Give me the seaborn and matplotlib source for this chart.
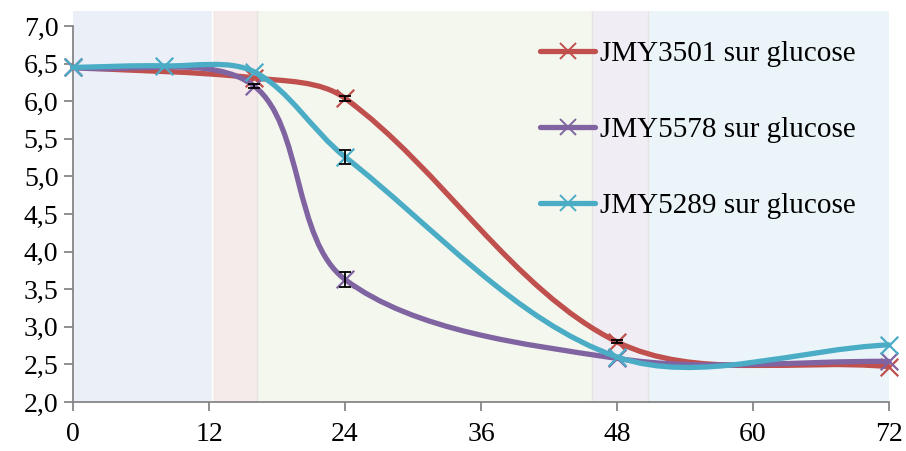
import numpy as np
import pandas as pd
import seaborn as sns
import matplotlib.pyplot as plt
from matplotlib.path import Path
from matplotlib.patches import PathPatch
from matplotlib.lines import Line2D

# time points (h) and pH values (nan = no measure)
hours = [0, 8, 16, 24, 48, 72]
ph_3501 = [6.45, np.nan, 6.31, 6.04, 2.80, 2.47]
ph_5578 = [6.45, np.nan, 6.20, 3.63, 2.58, 2.54]
ph_5289 = [6.45, 6.47, 6.39, 5.26, 2.60, 2.76]
err_3501 = [0, 0, 0, 0.035, 0.02, 0]
err_5578 = [0, 0, 0.03, 0.10, 0, 0]
err_5289 = [0, 0, 0, 0.09, 0, 0]
labels = ["JMY3501 sur glucose", "JMY5578 sur glucose", "JMY5289 sur glucose"]
colors = ["#C0504D", "#8064A2", "#4BACC6"]

# background phases (h)
band_edges = [0, 12.3, 16.2, 45.8, 50.7, 72]
band_colors = ["#EBF0F8", "#F6EBEB", "#F4F7EE", "#F0EEF4", "#EBF5F9"]

sns.set_style("white")
plt.rcParams['font.family'] = ['Liberation Serif', 'DejaVu Serif']
plt.rcParams['text.color'] = 'black'

fig = plt.figure(figsize=(9.06, 4.51), dpi=100)
ax = fig.add_axes([0.0806, 0.1086, 0.9006, 0.867])
ax.set_xlim(0, 72)
ax.set_ylim(2, 7.2)

for i, c in enumerate(band_colors):
    ax.axvspan(band_edges[i], band_edges[i + 1], color=c, lw=0, zorder=0)
    if 0 < i:
        ax.axvline(band_edges[i], color="white" if i == 1 else "#E8E3E3", lw=1, zorder=0.5)


def smooth_path(xs, ys):
    # Excel-like bezier smoothing, computed in display space
    pts = ax.transData.transform(np.column_stack([xs, ys]))
    n = len(pts)
    verts = [pts[0]]
    codes = [Path.MOVETO]
    d = [np.hypot(*(pts[i + 1] - pts[i])) for i in range(n - 1)]
    for i in range(n - 1):
        p0 = pts[i - 1] if i > 0 else pts[i]
        p3 = pts[i + 2] if i + 2 < n else pts[i + 1]
        d0 = d[i - 1] if i > 0 else 0
        d2 = d[i + 1] if i + 1 < n - 1 else 0
        c1 = pts[i] + (pts[i + 1] - p0) / 3 * d[i] / (d0 + d[i])
        c2 = pts[i + 1] - (p3 - pts[i]) / 3 * d[i] / (d[i] + d2)
        verts += [c1, c2, pts[i + 1]]
        codes += [Path.CURVE4] * 3
    verts = ax.transData.inverted().transform(np.array(verts))
    return Path(verts, codes)


series = [ph_3501, ph_5578, ph_5289]
errs = [err_3501, err_5578, err_5289]
for k, (vals, e) in enumerate(zip(series, errs)):
    df = pd.DataFrame({"h": hours, "ph": vals, "err": e}).dropna()
    patch = PathPatch(smooth_path(df["h"].values, df["ph"].values), fill=False,
                      edgecolor=colors[k], lw=3.8, capstyle='round', zorder=3 + k, clip_on=False)
    ax.add_patch(patch)
    sns.scatterplot(data=df, x="h", y="ph", marker="x", s=160, color=colors[k],
                    linewidth=1.6, ax=ax, zorder=3.5 + k, clip_on=False, legend=False)
    de = df[df["err"] > 0]
    ax.errorbar(de["h"], de["ph"], yerr=de["err"], fmt="none", ecolor="black", elinewidth=1.3,
                capsize=4, capthick=1.3, zorder=3.6 + k)

ax.set_xticks([0, 12, 24, 36, 48, 60, 72])
ax.set_yticks(np.arange(2, 7.01, 0.5))
ax.set_yticklabels([f"{v:.1f}".replace(".", ",") for v in np.arange(2, 7.01, 0.5)])
ax.set_xlabel("")
ax.set_ylabel("")
for s in ["top", "right"]:
    ax.spines[s].set_visible(False)
ax.spines["left"].set_bounds(2, 7)
for s in ["left", "bottom"]:
    ax.spines[s].set_color("#868686")
    ax.spines[s].set_linewidth(1.3)
ax.tick_params(axis="both", direction="out", length=6.5, width=1.3, color="#868686",
               labelsize=20, labelcolor="black", pad=4, left=True, bottom=True)
ax.tick_params(axis="x", pad=8)

handles = [Line2D([], [], color=c, lw=3.8, marker="x", markersize=11, markeredgewidth=1.4,
                  solid_capstyle='round') for c in colors]
ax.legend(handles, labels, loc="upper left", bbox_to_anchor=(0.558, 0.954), frameon=False,
          fontsize=21, handlelength=1.9, handletextpad=0.15, labelspacing=1.7,
          borderaxespad=0, labelcolor="black")

fig.savefig("out.png", dpi=100)
